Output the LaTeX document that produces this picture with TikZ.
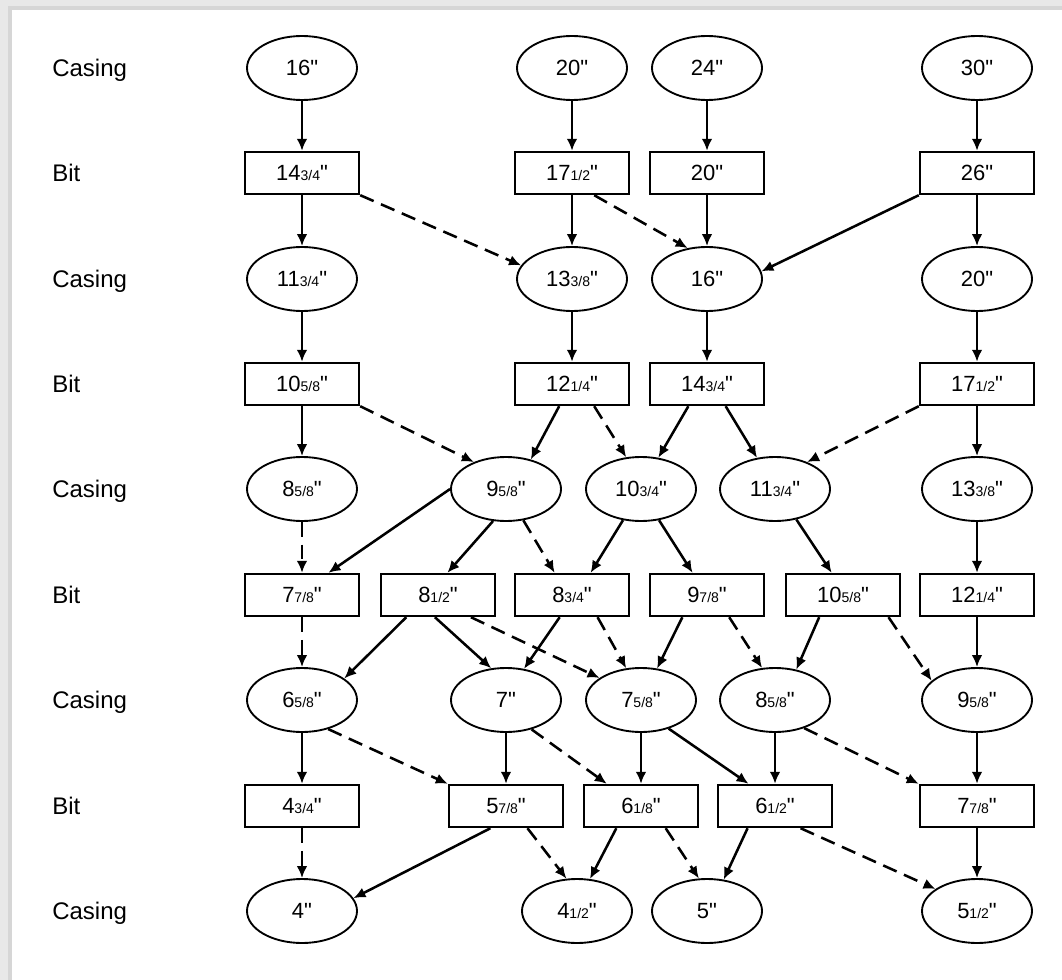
\documentclass[tikz,border=0pt]{standalone}
\usepackage{fontspec}
\setmainfont{Liberation Sans}[Ligatures=TeXOff]
\usetikzlibrary{shapes.geometric,arrows.meta}
\newcommand\valfont{\fontsize{16.5}{17}\selectfont}
\newcommand\labfont{\fontsize{18}{19}\selectfont}
\newcommand\smfr[1]{{\fontsize{10.5}{11}\selectfont #1}}
\tikzset{
  cas/.style={ellipse, draw, line width=1.4pt, minimum width=82.5pt, minimum height=48pt, inner sep=0pt, font=\valfont},
  bitbox/.style={rectangle, draw, line width=1.3pt, minimum width=86pt, minimum height=32pt, inner sep=0pt, font=\valfont},
  lab/.style={anchor=base west, font=\labfont, inner sep=0pt},
  sol/.style={line width=1.9pt, -{Latex[length=9pt,width=8pt]}},
  dsh/.style={sol, dash pattern=on 11pt off 6pt},
}
\begin{document}
\begin{tikzpicture}[x=0.75pt,y=-0.75pt]
\useasboundingbox (0,0) rectangle (1062,980);
% frame
\fill[gray!18] (0,0) rectangle (1062,980);
\fill[gray!32] (8,6) rectangle (1062,980);
\fill[white] (12,10) rectangle (1062,980);
% row labels
\foreach \yy/\tt [count=\i] in {68/Casing,173/Bit,279/Casing,384/Bit,489/Casing,595/Bit,700/Casing,806/Bit,911/Casing}
  \node[lab] (lab\i) at (52,\yy+8.5) {\tt};
% row 1
\node[cas] (A1) at (302,68) {16"};
\node[cas] (B1) at (572,68) {20"};
\node[cas] (C1) at (707,68) {24"};
\node[cas] (D1) at (977,68) {30"};
% row 2
\node[bitbox] (A2) at (302,173) {14\smfr{3/4}"};
\node[bitbox] (B2) at (572,173) {17\smfr{1/2}"};
\node[bitbox] (C2) at (707,173) {20"};
\node[bitbox] (D2) at (977,173) {26"};
% row 3
\node[cas] (A3) at (302,279) {11\smfr{3/4}"};
\node[cas] (B3) at (572,279) {13\smfr{3/8}"};
\node[cas] (C3) at (707,279) {16"};
\node[cas] (D3) at (977,279) {20"};
% row 4
\node[bitbox] (A4) at (302,384) {10\smfr{5/8}"};
\node[bitbox] (B4) at (572,384) {12\smfr{1/4}"};
\node[bitbox] (C4) at (707,384) {14\smfr{3/4}"};
\node[bitbox] (D4) at (977,384) {17\smfr{1/2}"};
% row 5
\node[cas] (A5) at (302,489) {8\smfr{5/8}"};
\node[cas] (B5) at (506,489) {9\smfr{5/8}"};
\node[cas] (C5) at (641,489) {10\smfr{3/4}"};
\node[cas] (E5) at (775,489) {11\smfr{3/4}"};
\node[cas] (D5) at (977,489) {13\smfr{3/8}"};
% row 6
\node[bitbox] (A6) at (302,595) {7\smfr{7/8}"};
\node[bitbox] (F6) at (438,595) {8\smfr{1/2}"};
\node[bitbox] (B6) at (572,595) {8\smfr{3/4}"};
\node[bitbox] (C6) at (707,595) {9\smfr{7/8}"};
\node[bitbox] (E6) at (843,595) {10\smfr{5/8}"};
\node[bitbox] (D6) at (977,595) {12\smfr{1/4}"};
% row 7
\node[cas] (A7) at (302,700) {6\smfr{5/8}"};
\node[cas] (B7) at (506,700) {7"};
\node[cas] (C7) at (641,700) {7\smfr{5/8}"};
\node[cas] (E7) at (775,700) {8\smfr{5/8}"};
\node[cas] (D7) at (977,700) {9\smfr{5/8}"};
% row 8
\node[bitbox] (A8) at (302,806) {4\smfr{3/4}"};
\node[bitbox] (B8) at (506,806) {5\smfr{7/8}"};
\node[bitbox] (C8) at (641,806) {6\smfr{1/8}"};
\node[bitbox] (E8) at (775,806) {6\smfr{1/2}"};
\node[bitbox] (D8) at (977,806) {7\smfr{7/8}"};
% row 9
\node[cas] (A9) at (302,911) {4"};
\node[cas] (B9) at (577,911) {4\smfr{1/2}"};
\node[cas] (C9) at (707,911) {5"};
\node[cas] (D9) at (977,911) {5\smfr{1/2}"};
% row 1 -> 2
\draw[sol] (A1) -- (A2);
\draw[sol] (B1) -- (B2);
\draw[sol] (C1) -- (C2);
\draw[sol] (D1) -- (D2);
% row 2 -> 3
\draw[sol] (A2) -- (A3);
\draw[dsh] (A2.south east) -- (B3.165);
\draw[sol] (B2) -- (B3);
\draw[dsh] (B2.-45) -- (C3.122);
\draw[sol] (C2) -- (C3);
\draw[sol] (D2.south west) -- (C3.8);
\draw[sol] (D2) -- (D3);
% row 3 -> 4
\draw[sol] (A3) -- (A4);
\draw[sol] (B3) -- (B4);
\draw[sol] (C3) -- (C4);
\draw[sol] (D3) -- (D4);
% row 4 -> 5
\draw[sol] (A4) -- (A5);
\draw[dsh] (A4.south east) -- (B5.140);
\draw[sol] (B4.-120) -- (B5.50);
\draw[dsh] (B4.-45) -- (C5.115);
\draw[sol] (C4.-130) -- (C5.61);
\draw[sol] (C4.-50) -- (E5.120);
\draw[dsh] (D4.south west) -- (E5.40);
\draw[sol] (D4) -- (D5);
% row 5 -> 6
\draw[dsh] (A5) -- (A6);
\draw[sol] (B5.west) -- (A6.40);
\draw[sol] (B5.-112) -- (F6.67);
\draw[dsh] (B5.-61) -- (B6.128);
\draw[sol] (C5.-120) -- (B6.50);
\draw[sol] (C5.-60) -- (C6.123);
\draw[sol] (E5.-55) -- (E6.117);
\draw[sol] (D5) -- (D6);
% row 6 -> 7
\draw[dsh] (A6) -- (A7);
\draw[sol] (F6.-145) -- (A7.27);
\draw[sol] (F6.-98) -- (B7.115);
\draw[dsh] (F6.-34) -- (C7.152);
\draw[sol] (B6.-119) -- (B7.60);
\draw[dsh] (B6.-41) -- (C7.115);
\draw[sol] (C6.-138) -- (C7.63);
\draw[dsh] (C6.-45) -- (E7.112);
\draw[sol] (E6.-137) -- (E7.55);
\draw[dsh] (E6.-26) -- (D7.157);
\draw[sol] (D6) -- (D7);
% row 7 -> 8
\draw[sol] (A7) -- (A8);
\draw[dsh] (A7.-48) -- (B8.north west);
\draw[sol] (B7) -- (B8);
\draw[dsh] (B7.-49) -- (C8.147);
\draw[sol] (C7) -- (C8);
\draw[sol] (C7.-46) -- (E8.140);
\draw[sol] (E7) -- (E8);
\draw[dsh] (E7.-44) -- (D8.north west);
\draw[sol] (D7) -- (D8);
% row 8 -> 9
\draw[dsh] (A8) -- (A9);
\draw[sol] (B8.-125) -- (A9.14);
\draw[dsh] (B8.-46) -- (B9.108);
\draw[sol] (C8.-138) -- (B9.68);
\draw[dsh] (C8.-42) -- (C9.104);
\draw[sol] (E8.-141) -- (C9.62);
\draw[dsh] (E8.-41) -- (D9.152);
\draw[sol] (D8) -- (D9);
\end{tikzpicture}
\end{document}
